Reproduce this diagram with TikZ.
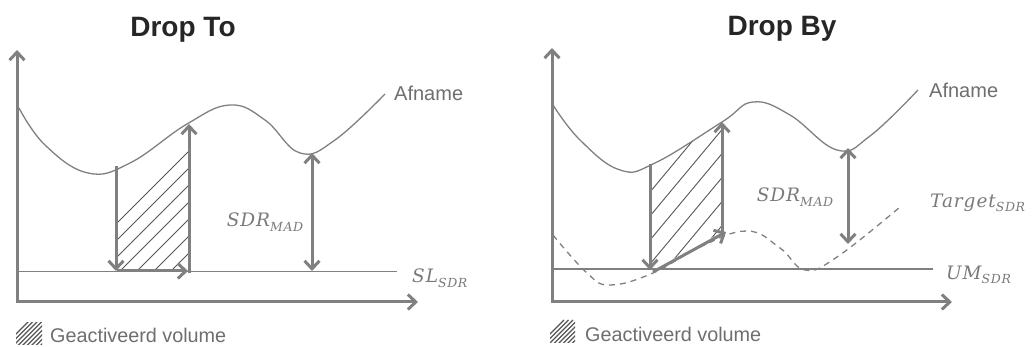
\documentclass[tikz,border=0pt]{standalone}
\usepackage{fontspec}
\setmainfont{Liberation Sans}
\newfontfamily\mfont{DejaVu Serif}[LetterSpace=5]
\newcommand\mlab[2]{{\mfont\itshape #1\raisebox{-4.5pt}{\fontsize{12.5}{13}\selectfont #2}}}
\usetikzlibrary{arrows.meta}
\definecolor{ln}{HTML}{808080}
\definecolor{txt}{HTML}{6E6E6E}
\definecolor{mtx}{HTML}{7A7A7A}
\definecolor{ttl}{HTML}{262626}
\definecolor{hat}{HTML}{555555}
\tikzset{
  axis/.style={draw=ln, line width=3pt, line join=miter, {Straight Barb[length=8pt,width=15pt]}-{Straight Barb[length=8pt,width=15pt]}},
  arr/.style={draw=ln, line width=3pt, -{Straight Barb[length=8pt,width=15pt]}},
  darr/.style={draw=ln, line width=3pt, {Straight Barb[length=8pt,width=15pt]}-{Straight Barb[length=8pt,width=15pt]}},
  thin line/.style={draw=ln, line width=1.3pt},
  curve/.style={draw=ln, line width=1.3pt},
  dash curve/.style={draw=ln, line width=1.3pt, dash pattern=on 6pt off 5pt},
  hatch/.style={draw=hat, line width=0.9pt},
  leghatch/.style={draw=hat, line width=1.3pt},
  title/.style={font=\fontsize{28}{32}\selectfont\bfseries, text=ttl, anchor=base, inner sep=0pt},
  lbl/.style={font=\fontsize{20}{23}\selectfont, text=txt, anchor=west, inner sep=0pt},
  mlbl/.style={font=\fontsize{18.5}{22}\selectfont, text=mtx, inner sep=0pt},
  leg/.style={font=\fontsize{19.8}{23}\selectfont, text=txt, anchor=base west, inner sep=0pt},
}
\begin{document}
\begin{tikzpicture}[x=1pt,y=-1pt]
\useasboundingbox (0,0) rectangle (1034,347);
% ================= LEFT: Drop To =================
\node[title] (t1) at (183,37) {Drop To};
\coordinate (L0) at (17,302);
\coordinate (Ly) at (17,50);
\coordinate (Lx) at (418,302);
\coordinate (SLa) at (19,271.5);
\coordinate (SLb) at (397,271.5);
% hatch
\begin{scope}
  \clip (117,0) rectangle (189,271.5);
  \clip plot[smooth,tension=0.7] coordinates {(19,108) (45,145) (88,173) (130,163) (187,124) (230,105) (265,120) (300,153) (335,140) (385,94)} -- (385,300) -- (19,300) -- cycle;
  \foreach \k in {0,...,14} \draw[hatch] (40+\k*17,300) -- ++(220,-220);
\end{scope}
\draw[curve] plot[smooth,tension=0.7] coordinates {(19,108) (45,145) (88,173) (130,163) (187,124) (230,105) (265,120) (300,153) (335,140) (385,94)};
\draw[thin line] (SLa) -- (SLb);
\draw[axis] (Ly) -- (L0) -- (Lx);
\coordinate (Ad1) at (116,166);
\coordinate (Ad2) at (116,271);
\coordinate (Ar1) at (117,271);
\coordinate (Ar2) at (188,271);
\coordinate (Au1) at (189,273);
\coordinate (Au2) at (189,124);
\draw[arr] (Ad1) -- (Ad2);
\draw[arr] (Ar1) -- (Ar2);
\draw[arr] (Au1) -- (Au2);
\coordinate (S1) at (312,153);
\coordinate (S2) at (312,271);
\draw[darr] (S1) -- (S2);
\node[mlbl] (sdr1) at (265,222) {\mlab{SDR}{MAD}};
\node[mlbl, anchor=west] (sl) at (412,278) {\mlab{SL}{SDR}};
\node[lbl] (af1) at (394,93) {Afname};
% legend
\begin{scope}
  \clip (16,323) rectangle (42,345);
  \foreach \k in {0,...,14} \draw[leghatch] (0+\k*4.5,350) -- ++(30,-30);
\end{scope}
\node[leg] (lg1) at (50,343) {Geactiveerd volume};
% ================= RIGHT: Drop By =================
\node[title] (t2) at (782,36) {Drop By};
\coordinate (R0) at (552,302);
\coordinate (Ry) at (552,48);
\coordinate (Rx) at (952,302);
\coordinate (UMa) at (553,269);
\coordinate (UMb) at (933,269);
\begin{scope}
  \clip (650,0) -- (722,0) -- (722,232) -- (653,270) -- (650,270) -- cycle;
  \clip plot[smooth,tension=0.7] coordinates {(553,105) (580,140) (620,170) (655,163) (722,122) (753,102) (790,115) (837,150) (870,136) (918,90)} -- (918,300) -- (553,300) -- cycle;
  \foreach \k in {0,...,14} \draw[hatch] (560+\k*20,300) -- ++(200,-240);
\end{scope}
\draw[curve] plot[smooth,tension=0.7] coordinates {(553,105) (580,140) (620,170) (655,163) (722,122) (753,102) (790,115) (837,150) (870,136) (918,90)};
\draw[dash curve] plot[smooth,tension=0.7] coordinates {(553,235) (587,273) (610,285) (653,273) (700,247) (747,231) (780,248) (805,270) (837,257) (900,207)};
\draw[thin line] (UMa) -- (UMb);
\draw[axis] (Ry) -- (R0) -- (Rx);
\coordinate (Bd1) at (650,164);
\coordinate (Bd2) at (650,270);
\coordinate (Bg1) at (653,272);
\coordinate (Bg2) at (726,232);
\coordinate (Bu1) at (722,233);
\coordinate (Bu2) at (722,122);
\draw[arr] (Bd1) -- (Bd2);
\draw[arr] (Bg1) -- (Bg2);
\draw[arr] (Bu1) -- (Bu2);
\coordinate (T1) at (848,148);
\coordinate (T2) at (848,244);
\draw[darr] (T1) -- (T2);
\node[mlbl] (sdr2) at (795,197) {\mlab{SDR}{MAD}};
\node[mlbl, anchor=west] (tg) at (930,203) {\mlab{Target}{SDR}};
\node[mlbl, anchor=west] (um) at (946,275) {\mlab{UM}{SDR}};
\node[lbl] (af2) at (929,90) {Afname};
\begin{scope}
  \clip (550,320) rectangle (575,343);
  \foreach \k in {0,...,14} \draw[leghatch] (534+\k*4.5,350) -- ++(30,-30);
\end{scope}
\node[leg] (lg2) at (585,342) {Geactiveerd volume};
\end{tikzpicture}
\end{document}
